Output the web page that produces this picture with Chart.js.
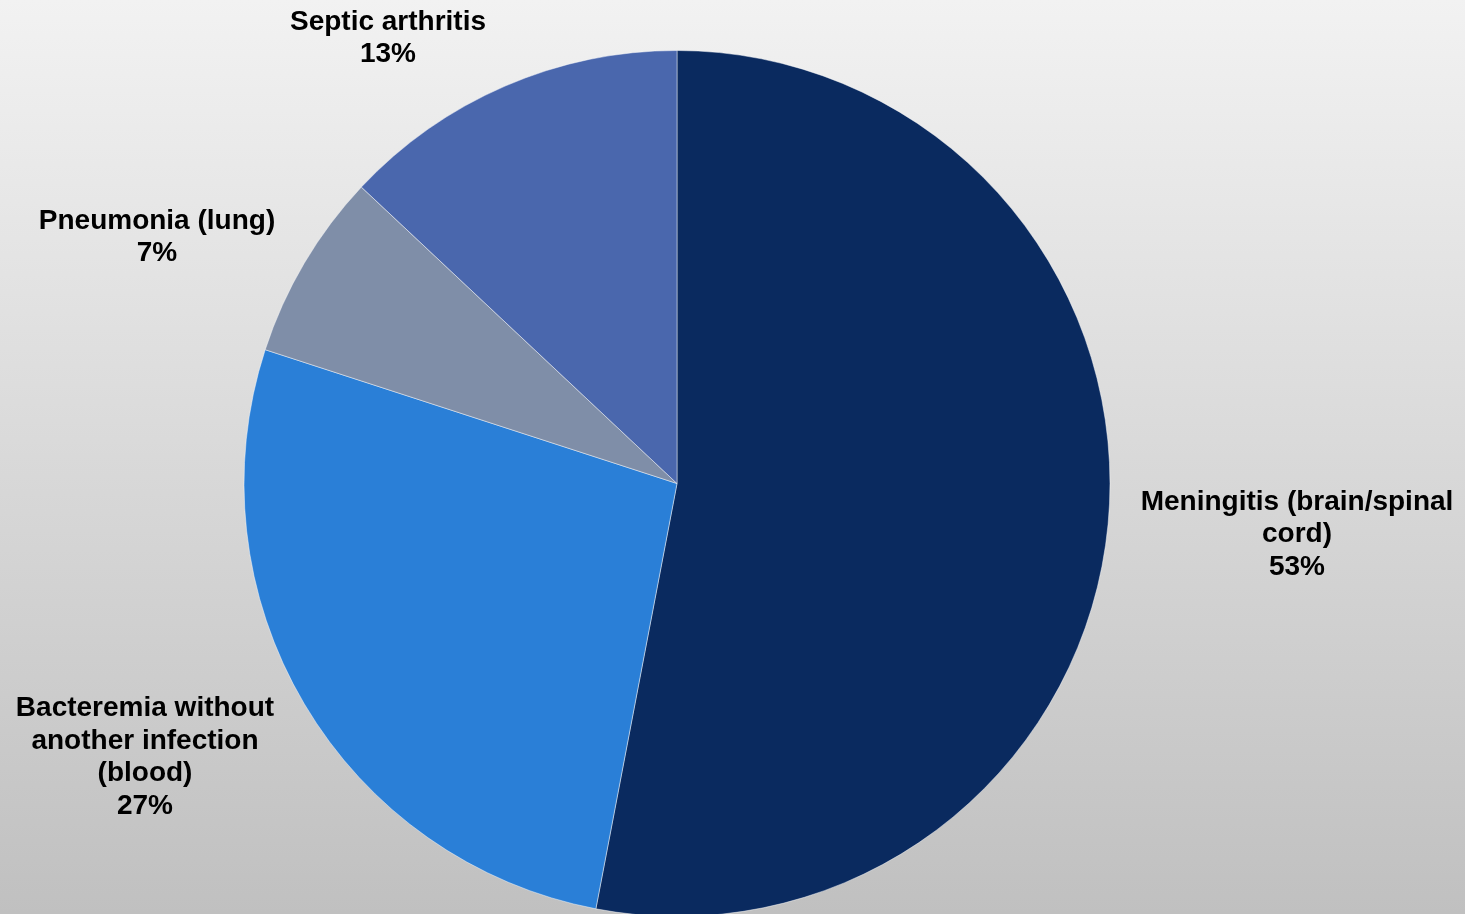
<!DOCTYPE html>
<html>
<head>
<meta charset="utf-8">
<script src="https://cdn.jsdelivr.net/npm/chart.js@4.4.1/dist/chart.umd.min.js"></script>
<style>
  html, body { margin: 0; padding: 0; overflow: hidden; }
  body {
    width: 1465px; height: 914px;
    background: linear-gradient(to bottom, #f2f2f2 0%, #c0c0c0 100%);
  }
  #wrap { position: relative; width: 1465px; height: 917px; }
</style>
</head>
<body>
<div id="wrap"><canvas id="pie"></canvas></div>
<script>
// Categories (label lines) and shares in percent, clockwise from 12 o'clock
const categories = [
    ['Meningitis (brain/spinal', 'cord)'],
    ['Bacteremia without', 'another infection', '(blood)'],
    ['Pneumonia (lung)'],
    ['Septic arthritis']
];
const shares = [53, 27, 7, 13];
const sliceColors = ['#0a2a5f', '#2a7fd7', '#7f8ea8', '#4a67ad'];

// Where each label block sits, relative to the pie centre (px)
const labelOffsets = [[620, 51], [-532, 274], [-520, -246], [-289, -445]];

// Draws the category name + percentage outside each slice
const outsideLabels = {
    id: 'outsideLabels',
    afterDatasetsDraw(chart) {
        const ctx = chart.ctx;
        const arcs = chart.getDatasetMeta(0).data;
        ctx.save();
        ctx.font = 'bold 28px "Liberation Sans", Arial, sans-serif';
        ctx.fillStyle = '#000000';
        ctx.textAlign = 'center';
        ctx.textBaseline = 'middle';
        const lh = 32.5;
        arcs.forEach((arc, i) => {
            const lines = categories[i].concat([shares[i] + '%']);
            const cx = arc.x + labelOffsets[i][0];
            const cy = arc.y + labelOffsets[i][1];
            const top = cy - (lines.length - 1) * lh / 2;
            lines.forEach((t, j) => ctx.fillText(t, cx, top + j * lh));
        });
        ctx.restore();
    }
};

new Chart(document.getElementById('pie').getContext('2d'), {
    type: 'pie',
    data: {
        labels: categories.map(c => c.join(' ')),
        datasets: [{
            data: shares,
            backgroundColor: sliceColors,
            borderColor: 'rgba(255,255,255,0.45)',
            borderWidth: 1
        }]
    },
    options: {
        responsive: true,
        maintainAspectRatio: false,
        animation: false,
        layout: { padding: { left: 243, right: 354, top: 50, bottom: 0 } },
        plugins: {
            legend: { display: false },
            tooltip: { enabled: false }
        }
    },
    plugins: [outsideLabels]
});
</script>
</body>
</html>
